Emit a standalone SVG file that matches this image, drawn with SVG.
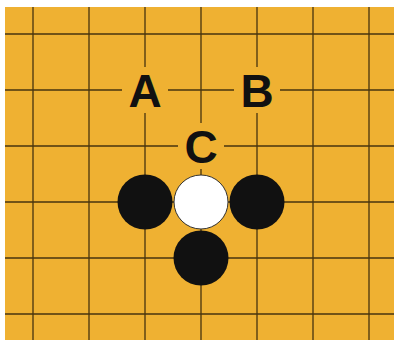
<svg xmlns="http://www.w3.org/2000/svg" width="394" height="340" viewBox="0 0 394 340">
<style>
.g{stroke:#2a1e08;stroke-width:1.3;stroke-opacity:0.85}
.lbl{fill:#EFB132}
.t{font-family:"Liberation Sans",Arial,sans-serif;font-weight:bold;font-size:46px;fill:#111;text-anchor:middle}
.b{fill:#111}
.w{fill:#fff;stroke:#333;stroke-width:1}
</style>
<rect x="5" y="7" width="389" height="333" fill="#EFB132"/>
<g id="grid">
<path class="g" d="M33 7V340M89 7V340M145 7V340M201 7V340M257 7V340M313 7V340M369 7V340M5 34H394M5 90H394M5 146H394M5 202H394M5 258H394M5 314H394"/>
</g>
<g id="A"><rect class="lbl" x="122" y="67" width="46" height="46"/><text class="t" x="145" y="106.5">A</text></g>
<g id="B"><rect class="lbl" x="234" y="67" width="46" height="46"/><text class="t" x="257" y="106.5">B</text></g>
<g id="C"><rect class="lbl" x="178" y="123" width="46" height="46"/><text class="t" x="201" y="162.5">C</text></g>
<g id="stone-black-1"><circle class="b" cx="145" cy="202" r="27.5"/></g>
<g id="stone-black-2"><circle class="b" cx="257" cy="202" r="27.5"/></g>
<g id="stone-black-3"><circle class="b" cx="201" cy="258" r="27.5"/></g>
<g id="stone-white"><circle class="w" cx="201" cy="202" r="27"/></g>
</svg>
